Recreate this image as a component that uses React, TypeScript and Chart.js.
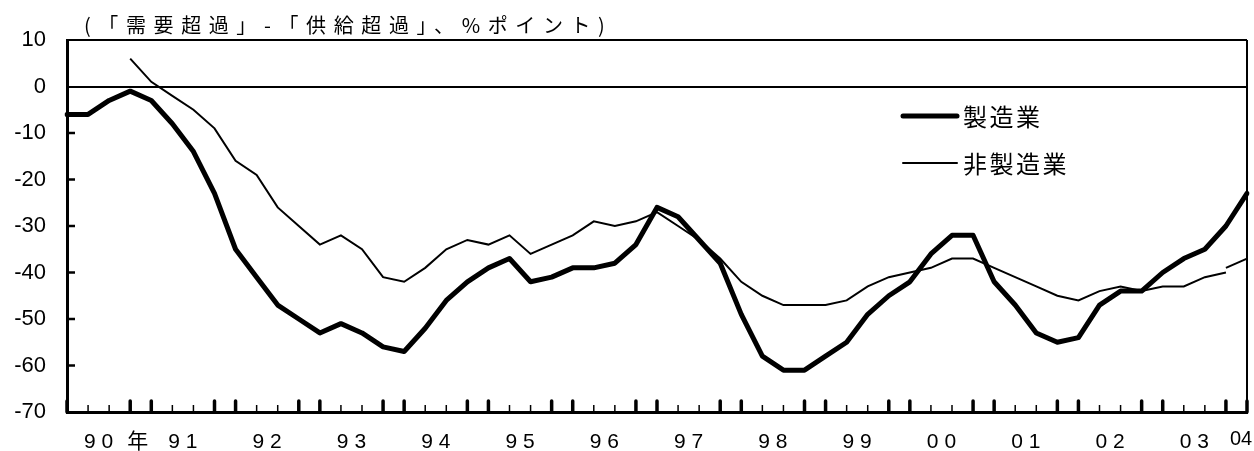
import React, { useEffect, useRef } from 'react';
import { Chart, registerables } from 'chart.js';

Chart.register(...registerables);

// ---- data ----
const years = [1990, 1991, 1992, 1993, 1994, 1995, 1996, 1997, 1998, 1999, 2000, 2001, 2002, 2003, 2004];
const quarters = ['1Q', '2Q', '3Q', '4Q'];
const categories = years.flatMap((y) => quarters.map((q) => `${y}/${q}`)).slice(0, 57);

const manufacturing = [
  -6, -6, -3, -1, -3, -8, -14, -23, -35, -41,
  -47, -50, -53, -51, -53, -56, -57, -52, -46, -42,
  -39, -37, -42, -41, -39, -39, -38, -34, -26, -28,
  -33, -38, -49, -58, -61, -61, -58, -55, -49, -45,
  -42, -36, -32, -32, -42, -47, -53, -55, -54, -47,
  -44, -44, -40, -37, -35, -30, -23,
];

const nonManufacturing = [
  null, null, null, 6, 1, -2, -5, -9, -16, -19,
  -26, -30, -34, -32, -35, -41, -42, -39, -35, -33,
  -34, -32, -36, -34, -32, -29, -30, -29, -27, -30,
  -33, -37, -42, -45, -47, -47, -47, -46, -43, -41,
  -40, -39, -37, -37, -39, -41, -43, -45, -46, -44,
  -43, -44, -43, -43, -41, -40, null,
];

const nonManufacturingNewBasis = [...new Array(55).fill(null), -39, -37];

const yearTickLabels = ['9 0', '9 1', '9 2', '9 3', '9 4', '9 5', '9 6', '9 7', '9 8', '9 9', '0 0', '0 1', '0 2', '0 3'];
const lastTickLabel = '04';
const yearSuffix = '年';
const yMin = -70;
const yMax = 10;
const yStep = 10;
const titleText = '(「需要超過」-「供給超過」、%ポイント)';
const seriesNames = ['製造業', '非製造業'];

const SANS = "'Liberation Sans', Arial, sans-serif";
const CJK = "'Noto Sans CJK JP', sans-serif";

const decorPlugin = {
  id: 'decor',
  afterDraw(chart: any) {
    const { ctx, chartArea: a, scales } = chart;
    const xs = scales.x;
    const ys = scales.y;
    ctx.save();
    ctx.strokeStyle = '#000';
    ctx.fillStyle = '#000';

    // right border
    ctx.lineWidth = 2;
    ctx.beginPath();
    ctx.moveTo(a.right, a.top);
    ctx.lineTo(a.right, a.bottom);
    ctx.stroke();

    // x tick marks (inward)
    for (let i = 0; i < categories.length; i++) {
      const px = xs.getPixelForValue(i);
      const major = i % 4 === 0 || i % 4 === 3;
      ctx.lineWidth = major ? 3.5 : 1.5;
      ctx.lineCap = major ? 'round' : 'butt';
      ctx.beginPath();
      ctx.moveTo(px, a.bottom);
      ctx.lineTo(px, a.bottom - (major ? 11 : 7));
      ctx.stroke();
    }

    // y tick marks (inward)
    ctx.lineCap = 'butt';
    ctx.lineWidth = 2.5;
    ys.ticks.forEach((t: any) => {
      if (t.value > yMin && t.value < yMax && t.value !== 0) {
        const py = ys.getPixelForValue(t.value);
        ctx.beginPath();
        ctx.moveTo(a.left, py);
        ctx.lineTo(a.left + 8, py);
        ctx.stroke();
      }
    });

    // x year labels
    ctx.font = `21px ${SANS}`;
    ctx.textAlign = 'center';
    ctx.textBaseline = 'alphabetic';
    yearTickLabels.forEach((lab, k) => {
      const px = xs.getPixelForValue(1.5 + 4 * k);
      ctx.fillText(lab, px, 448);
    });
    // 年
    ctx.font = `21px ${CJK}`;
    ctx.textBaseline = 'middle';
    const p0 = xs.getPixelForValue(1.5);
    const p1 = xs.getPixelForValue(5.5);
    ctx.fillText(yearSuffix, (p0 + p1) / 2 - 3, 440);
    // 04
    ctx.font = `20px ${SANS}`;
    ctx.textBaseline = 'alphabetic';
    ctx.fillText(lastTickLabel, xs.getPixelForValue(categories.length - 1) - 6, 445);

    // legend
    const ds = chart.data.datasets;
    const legendRows = [
      { y: 116, w: ds[0].borderWidth, text: ds[0].label },
      { y: 163, w: ds[1].borderWidth, text: ds[1].label },
    ];
    legendRows.forEach((r) => {
      ctx.lineWidth = r.w;
      ctx.lineCap = 'round';
      ctx.beginPath();
      ctx.moveTo(903, r.y);
      ctx.lineTo(957, r.y);
      ctx.stroke();
      ctx.font = `24px ${CJK}`;
      (ctx as any).letterSpacing = '2.5px';
      ctx.textAlign = 'left';
      ctx.textBaseline = 'middle';
      ctx.fillText(r.text, 963, r.y + 1);
      (ctx as any).letterSpacing = '0px';
    });

    // title
    ctx.font = `20px ${CJK}`;
    (ctx as any).letterSpacing = '7.6px';
    ctx.textAlign = 'left';
    ctx.textBaseline = 'alphabetic';
    ctx.fillText(titleText, 84, 33);
    (ctx as any).letterSpacing = '0px';

    ctx.restore();
  },
};

export default function App() {
  const canvasRef = useRef<HTMLCanvasElement | null>(null);

  useEffect(() => {
    if (!canvasRef.current) return;
    const chart = new Chart(canvasRef.current, {
      type: 'line',
      data: {
        labels: categories,
        datasets: [
          {
            label: seriesNames[0],
            data: manufacturing,
            borderColor: '#000',
            borderWidth: 5,
            pointRadius: 0,
            tension: 0,
            borderJoinStyle: 'round',
            borderCapStyle: 'round',
            fill: false,
          },
          {
            label: seriesNames[1],
            data: nonManufacturing,
            borderColor: '#000',
            borderWidth: 2,
            pointRadius: 0,
            tension: 0,
            fill: false,
          },
          {
            label: seriesNames[1] + '(新)',
            data: nonManufacturingNewBasis,
            borderColor: '#000',
            borderWidth: 2,
            pointRadius: 0,
            tension: 0,
            fill: false,
          },
        ],
      },
      options: {
        responsive: false,
        animation: false,
        events: [],
        layout: { padding: { top: 40, right: 7, left: 0, bottom: 0 } },
        plugins: {
          legend: { display: false },
          title: { display: false },
          tooltip: { enabled: false },
        },
        scales: {
          x: {
            type: 'category',
            offset: false,
            grid: { display: false },
            border: { display: true, color: '#000', width: 3 },
            ticks: { display: false },
            afterFit: (s: any) => {
              s.height = 39;
            },
          },
          y: {
            type: 'linear',
            min: yMin,
            max: yMax,
            grid: {
              drawTicks: false,
              color: (c: any) =>
                c.tick && (c.tick.value === 0 || c.tick.value === yMax) ? '#000' : 'rgba(0,0,0,0)',
              lineWidth: 2,
            },
            border: { display: true, color: '#000', width: 3 },
            ticks: {
              stepSize: yStep,
              color: '#000',
              padding: 21,
              font: { family: SANS, size: 22 },
            },
            afterFit: (s: any) => {
              s.width = 67;
            },
          },
        },
      },
      plugins: [decorPlugin],
    } as any);
    return () => chart.destroy();
  }, []);

  return (
    <div style={{ position: 'absolute', left: 0, top: 0, width: 1254, height: 451, background: '#fff' }}>
      <canvas ref={canvasRef} width={1254} height={451} style={{ display: 'block' }} />
    </div>
  );
}
